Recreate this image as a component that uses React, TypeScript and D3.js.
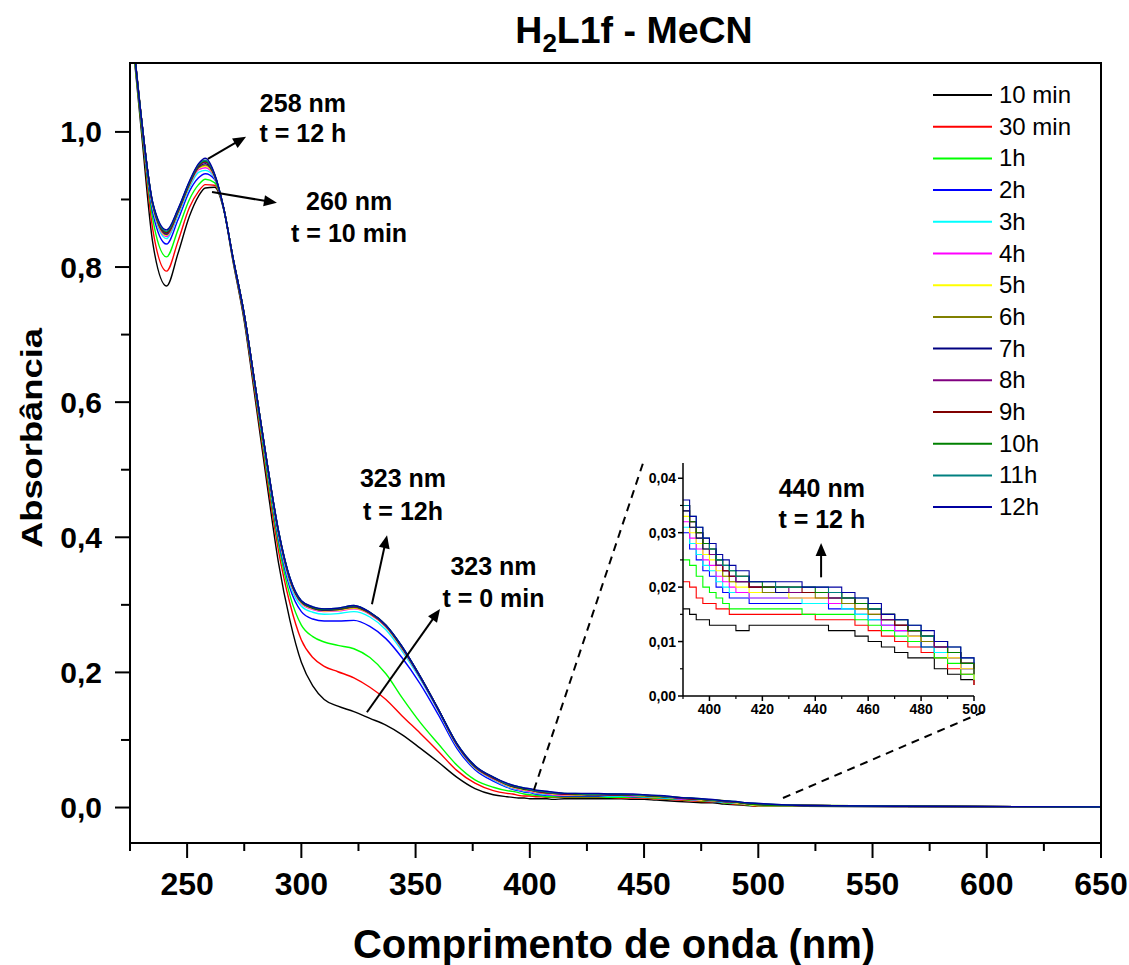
import React from 'react';
import * as d3 from 'd3';

// ---------- DATA ----------
const wavelengths = [
  226, 230, 235, 241, 246, 251, 255, 258, 262, 266, 270, 275, 280, 285, 290, 295, 300, 305, 310, 316, 323, 330, 337, 344, 352, 360, 368, 376, 384,
  390, 392.5, 395, 397.5, 400, 402.5, 405, 407.5, 410, 415, 420, 425, 430, 435, 440, 445, 450, 455, 460, 465, 470, 475, 480, 485, 490, 495, 500,
  520, 560, 650,
];

const seriesLabels = ['10 min', '30 min', '1h', '2h', '3h', '4h', '5h', '6h', '7h', '8h', '9h', '10h', '11h', '12h'];
const seriesColors = ['#000000', '#ff0000', '#00ff00', '#0000ff', '#00ffff', '#ff00ff', '#ffff00', '#808000', '#000080', '#800080', '#800000', '#008000', '#008080', '#0000a0'];

const abs10min = [
  1.14, 1.0, 0.835, 0.772, 0.82, 0.875, 0.905, 0.917, 0.918, 0.885, 0.81, 0.72, 0.6, 0.478, 0.362, 0.277, 0.215, 0.18, 0.16, 0.15, 0.142, 0.132, 0.122, 0.108, 0.088, 0.067, 0.045, 0.028, 0.019,
  0.016, 0.015, 0.014, 0.014, 0.013, 0.013, 0.013, 0.013, 0.012, 0.013, 0.013, 0.013, 0.013, 0.013, 0.013, 0.012, 0.012, 0.011, 0.01, 0.009, 0.008, 0.007, 0.007, 0.005, 0.004, 0.003, 0.002,
  0.002, 0.001, 0.001,
];
const abs30min = [
  1.14, 1.01, 0.855, 0.794, 0.838, 0.888, 0.912, 0.922, 0.921, 0.887, 0.812, 0.724, 0.607, 0.488, 0.38, 0.302, 0.248, 0.222, 0.209, 0.201, 0.192, 0.178, 0.16, 0.136, 0.11, 0.083, 0.055, 0.036, 0.025,
  0.021, 0.02, 0.018, 0.017, 0.017, 0.016, 0.016, 0.015, 0.015, 0.015, 0.015, 0.015, 0.015, 0.015, 0.014, 0.014, 0.014, 0.013, 0.012, 0.011, 0.01, 0.009, 0.008, 0.007, 0.005, 0.004, 0.002,
  0.003, 0.002, 0.001,
];
const abs1h = [
  1.14, 1.01, 0.87, 0.815, 0.855, 0.9, 0.922, 0.93, 0.925, 0.887, 0.813, 0.726, 0.612, 0.495, 0.39, 0.314, 0.27, 0.253, 0.245, 0.24, 0.235, 0.222, 0.198, 0.163, 0.126, 0.094, 0.063, 0.041, 0.03,
  0.025, 0.024, 0.022, 0.02, 0.019, 0.018, 0.017, 0.016, 0.016, 0.016, 0.016, 0.016, 0.016, 0.015, 0.015, 0.015, 0.015, 0.014, 0.013, 0.012, 0.011, 0.01, 0.009, 0.007, 0.006, 0.004, 0.003,
  0.003, 0.002, 0.001,
];
const abs2h = [
  1.15, 1.015, 0.88, 0.834, 0.87, 0.912, 0.932, 0.938, 0.93, 0.887, 0.814, 0.728, 0.616, 0.502, 0.397, 0.325, 0.29, 0.279, 0.276, 0.276, 0.277, 0.268, 0.25, 0.222, 0.183, 0.137, 0.088, 0.056, 0.039,
  0.03, 0.027, 0.025, 0.023, 0.022, 0.02, 0.019, 0.018, 0.018, 0.017, 0.017, 0.017, 0.017, 0.017, 0.017, 0.016, 0.016, 0.015, 0.014, 0.013, 0.012, 0.011, 0.009, 0.008, 0.007, 0.005, 0.004,
  0.003, 0.002, 0.001,
];
const abs3h = [
  1.15, 1.02, 0.886, 0.842, 0.876, 0.917, 0.94, 0.943, 0.932, 0.887, 0.815, 0.729, 0.618, 0.505, 0.402, 0.33, 0.298, 0.289, 0.286, 0.287, 0.29, 0.282, 0.263, 0.232, 0.19, 0.142, 0.091, 0.058, 0.041,
  0.031, 0.028, 0.026, 0.024, 0.023, 0.021, 0.02, 0.019, 0.019, 0.018, 0.018, 0.018, 0.018, 0.017, 0.017, 0.017, 0.016, 0.015, 0.014, 0.013, 0.012, 0.011, 0.01, 0.008, 0.007, 0.005, 0.003,
  0.003, 0.002, 0.001,
];
const abs4h = [
  1.15, 1.02, 0.889, 0.845, 0.879, 0.92, 0.944, 0.947, 0.933, 0.887, 0.815, 0.729, 0.619, 0.507, 0.405, 0.334, 0.302, 0.293, 0.29, 0.291, 0.294, 0.286, 0.267, 0.235, 0.192, 0.143, 0.092, 0.059, 0.042,
  0.032, 0.029, 0.027, 0.025, 0.024, 0.022, 0.021, 0.02, 0.019, 0.018, 0.018, 0.018, 0.018, 0.018, 0.018, 0.017, 0.017, 0.016, 0.015, 0.013, 0.012, 0.011, 0.01, 0.009, 0.007, 0.005, 0.004,
  0.003, 0.002, 0.001,
];
const abs5h = [
  1.15, 1.02, 0.89, 0.847, 0.88, 0.921, 0.946, 0.949, 0.934, 0.887, 0.815, 0.73, 0.62, 0.508, 0.406, 0.336, 0.303, 0.294, 0.291, 0.292, 0.295, 0.287, 0.268, 0.236, 0.193, 0.144, 0.093, 0.059, 0.043,
  0.033, 0.03, 0.028, 0.026, 0.025, 0.023, 0.022, 0.021, 0.02, 0.019, 0.019, 0.019, 0.018, 0.018, 0.018, 0.018, 0.017, 0.016, 0.015, 0.014, 0.013, 0.011, 0.01, 0.009, 0.007, 0.005, 0.003,
  0.003, 0.002, 0.001,
];
const abs6h = [
  1.15, 1.02, 0.891, 0.848, 0.881, 0.922, 0.947, 0.951, 0.935, 0.887, 0.815, 0.73, 0.62, 0.509, 0.407, 0.337, 0.304, 0.295, 0.292, 0.293, 0.296, 0.287, 0.268, 0.237, 0.193, 0.144, 0.093, 0.06, 0.043,
  0.034, 0.031, 0.029, 0.027, 0.026, 0.024, 0.022, 0.021, 0.021, 0.02, 0.019, 0.019, 0.019, 0.019, 0.018, 0.018, 0.017, 0.016, 0.015, 0.014, 0.013, 0.012, 0.01, 0.009, 0.008, 0.006, 0.005,
  0.003, 0.002, 0.001,
];
const abs7h = [
  1.15, 1.02, 0.892, 0.849, 0.882, 0.923, 0.948, 0.953, 0.935, 0.887, 0.815, 0.73, 0.62, 0.509, 0.408, 0.338, 0.304, 0.295, 0.292, 0.293, 0.297, 0.288, 0.269, 0.237, 0.193, 0.145, 0.094, 0.06, 0.044,
  0.034, 0.031, 0.029, 0.027, 0.026, 0.024, 0.023, 0.022, 0.021, 0.02, 0.02, 0.019, 0.019, 0.019, 0.019, 0.018, 0.018, 0.017, 0.016, 0.014, 0.013, 0.012, 0.011, 0.009, 0.008, 0.006, 0.005,
  0.003, 0.002, 0.001,
];
const abs8h = [
  1.15, 1.02, 0.893, 0.85, 0.883, 0.924, 0.949, 0.955, 0.936, 0.887, 0.815, 0.73, 0.62, 0.51, 0.408, 0.338, 0.305, 0.296, 0.293, 0.294, 0.297, 0.288, 0.269, 0.238, 0.194, 0.145, 0.094, 0.06, 0.044,
  0.035, 0.032, 0.03, 0.028, 0.026, 0.024, 0.023, 0.022, 0.021, 0.02, 0.02, 0.02, 0.019, 0.019, 0.019, 0.018, 0.018, 0.017, 0.016, 0.014, 0.013, 0.012, 0.011, 0.009, 0.008, 0.006, 0.004,
  0.003, 0.002, 0.001,
];
const abs9h = [
  1.15, 1.02, 0.893, 0.851, 0.884, 0.925, 0.95, 0.956, 0.936, 0.887, 0.815, 0.73, 0.62, 0.51, 0.409, 0.339, 0.305, 0.296, 0.293, 0.294, 0.298, 0.288, 0.27, 0.238, 0.194, 0.145, 0.094, 0.061, 0.044,
  0.035, 0.032, 0.03, 0.028, 0.027, 0.025, 0.023, 0.022, 0.022, 0.02, 0.02, 0.02, 0.02, 0.019, 0.019, 0.019, 0.018, 0.017, 0.016, 0.015, 0.013, 0.012, 0.011, 0.01, 0.008, 0.006, 0.005,
  0.003, 0.002, 0.001,
];
const abs10h = [
  1.15, 1.02, 0.894, 0.852, 0.884, 0.925, 0.951, 0.957, 0.937, 0.887, 0.815, 0.73, 0.62, 0.51, 0.409, 0.339, 0.305, 0.296, 0.293, 0.294, 0.298, 0.289, 0.27, 0.238, 0.194, 0.145, 0.095, 0.061, 0.045,
  0.035, 0.032, 0.03, 0.028, 0.027, 0.025, 0.024, 0.023, 0.022, 0.021, 0.02, 0.02, 0.02, 0.02, 0.019, 0.019, 0.018, 0.017, 0.016, 0.015, 0.014, 0.012, 0.011, 0.01, 0.008, 0.006, 0.004,
  0.003, 0.002, 0.001,
];
const abs11h = [
  1.15, 1.02, 0.894, 0.853, 0.885, 0.926, 0.952, 0.958, 0.937, 0.887, 0.815, 0.73, 0.62, 0.51, 0.41, 0.34, 0.306, 0.297, 0.294, 0.295, 0.299, 0.289, 0.27, 0.239, 0.194, 0.145, 0.095, 0.062, 0.045,
  0.035, 0.033, 0.031, 0.029, 0.027, 0.025, 0.024, 0.023, 0.022, 0.021, 0.021, 0.02, 0.02, 0.02, 0.02, 0.019, 0.018, 0.018, 0.016, 0.015, 0.014, 0.013, 0.011, 0.01, 0.009, 0.007, 0.006,
  0.003, 0.002, 0.001,
];
const abs12h = [
  1.15, 1.02, 0.895, 0.855, 0.886, 0.927, 0.953, 0.961, 0.938, 0.887, 0.815, 0.73, 0.62, 0.51, 0.41, 0.34, 0.306, 0.297, 0.294, 0.295, 0.299, 0.289, 0.27, 0.239, 0.194, 0.145, 0.095, 0.062, 0.045,
  0.036, 0.033, 0.031, 0.029, 0.028, 0.026, 0.025, 0.024, 0.023, 0.021, 0.021, 0.021, 0.021, 0.02, 0.02, 0.02, 0.019, 0.018, 0.017, 0.015, 0.014, 0.013, 0.012, 0.01, 0.009, 0.007, 0.006,
  0.003, 0.002, 0.001,
];

const seriesValues = [abs10min, abs30min, abs1h, abs2h, abs3h, abs4h, abs5h, abs6h, abs7h, abs8h, abs9h, abs10h, abs11h, abs12h];

const xMajorTicks = [250, 300, 350, 400, 450, 500, 550, 600, 650];
const xMinorTicks = [225, 275, 325, 375, 425, 475, 525, 575, 625];
const yMajorTicks = [0, 0.2, 0.4, 0.6, 0.8, 1.0];
const yMinorTicks = [0.1, 0.3, 0.5, 0.7, 0.9];
const insetXMajorTicks = [400, 420, 440, 460, 480, 500];
const insetXMinorTicks = [390, 410, 430, 450, 470, 490];
const insetYMajorTicks = [0, 0.01, 0.02, 0.03, 0.04];
const insetYMinorTicks = [0.005, 0.015, 0.025, 0.035];

// annotations (in data units of main plot)
const peakAnnotations = [
  { lines: ['258 nm', 't = 12 h'], x: 300.7, y: [1.0289, 0.9844] },
  { lines: ['260 nm', 't = 10 min'], x: 320.9, y: [0.8845, 0.8372] },
  { lines: ['323 nm', 't = 12h'], x: 344.5, y: [0.4745, 0.4256] },
  { lines: ['323 nm', 't = 0 min'], x: 384.1, y: [0.3442, 0.2968] },
  { lines: ['440 nm', 't = 12 h'], x: 527.8, y: [0.4597, 0.4138] },
];
const mainArrows = [
  { from: [259.1, 0.96], to: [275.8, 0.993] },
  { from: [260.9, 0.911], to: [289.3, 0.895] },
  { from: [330.9, 0.301], to: [337.5, 0.403] },
  { from: [328.7, 0.141], to: [360.7, 0.294] },
];
const insetArrow = { from: [442.2, 0.0218], to: [442.2, 0.0281] };
const zoomGuides = [
  { from: [401.8, 0.0259], to: [450.0, 0.5144] },
  { from: [510.8, 0.0141], to: [600.5, 0.1443] },
];

// ---------- LAYOUT ----------
const W = 1129;
const H = 965;
const FONT = '"Liberation Sans", Arial, Helvetica, sans-serif';

const fmt1 = (v: number) => d3.format('.1f')(v).replace('.', ',');
const fmt2 = (v: number) => d3.format('.2f')(v).replace('.', ',');

function Arrow({ x1, y1, x2, y2 }: { x1: number; y1: number; x2: number; y2: number }) {
  const dx = x2 - x1;
  const dy = y2 - y1;
  const len = Math.hypot(dx, dy);
  const ux = dx / len;
  const uy = dy / len;
  const hl = 13;
  const hw = 5.5;
  const bx = x2 - ux * hl;
  const by = y2 - uy * hl;
  const pts = [
    [x2, y2],
    [bx - uy * hw, by + ux * hw],
    [bx + uy * hw, by - ux * hw],
  ];
  return (
    <g>
      <line x1={x1} y1={y1} x2={bx + ux * 2} y2={by + uy * 2} stroke="#000" strokeWidth={2} />
      <polygon points={pts.map((p) => p.join(',')).join(' ')} fill="#000" />
    </g>
  );
}

export default function App() {
  const x = d3.scaleLinear().domain([225, 650]).range([130, 1101]);
  const y = d3.scaleLinear().domain([-0.0525, 1.102]).range([843, 63]);

  const ix = d3.scaleLinear().domain([390, 500]).range([683, 974]);
  const iy = d3.scaleLinear().domain([0, 0.0428]).range([696, 463]);

  const mainLine = d3
    .line<[number, number]>()
    .x((d) => x(d[0]))
    .y((d) => y(d[1]))
    .curve(d3.curveMonotoneX);

  const insetLine = d3
    .line<[number, number]>()
    .x((d) => ix(d[0]))
    .y((d) => iy(d[1]))
    .curve(d3.curveStepAfter);

  const seriesPts = seriesValues.map((vals) => wavelengths.map((w, i) => [w, vals[i]] as [number, number]));

  const [x0, x1] = x.range();
  const [yb, yt] = y.range();

  return (
    <svg
      width={W}
      height={H}
      viewBox={`0 0 ${W} ${H}`}
      style={{ position: 'absolute', left: 0, top: 0, background: '#fff' }}
      fontFamily={FONT}
    >
      <rect x={0} y={0} width={W} height={H} fill="#fff" />
      <defs>
        <clipPath id="mainClip">
          <rect x={x0} y={yt} width={x1 - x0} height={yb - yt} />
        </clipPath>
        <clipPath id="insetClip">
          <rect x={ix(390)} y={iy(0.0428)} width={ix(500) - ix(390) + 1} height={iy(0) - iy(0.0428) + 1} />
        </clipPath>
      </defs>

      {/* Title */}
      <text x={634} y={43} textAnchor="middle" fontSize={37.5} fontWeight="bold" fill="#000">
        H<tspan fontSize={26} dy={9}>2</tspan>
        <tspan dy={-9}>L1f - MeCN</tspan>
      </text>

      {/* Curves */}
      <g clipPath="url(#mainClip)">
        {seriesPts.map((pts, i) => (
          <path key={i} d={mainLine(pts) || ''} fill="none" stroke={seriesColors[i]} strokeWidth={1.4} />
        ))}
      </g>

      {/* Frame */}
      <rect x={x0} y={yt} width={x1 - x0} height={yb - yt} fill="none" stroke="#000" strokeWidth={2} />

      {/* X axis ticks */}
      {xMajorTicks.map((t) => (
        <g key={'xm' + t}>
          <line x1={x(t)} x2={x(t)} y1={yb} y2={yb + 15} stroke="#000" strokeWidth={2} />
          <text x={x(t)} y={895} textAnchor="middle" fontSize={32} fontWeight="bold">
            {t}
          </text>
        </g>
      ))}
      {xMinorTicks.map((t) => (
        <line key={'xn' + t} x1={x(t)} x2={x(t)} y1={yb} y2={yb + 8} stroke="#000" strokeWidth={2} />
      ))}

      {/* Y axis ticks */}
      {yMajorTicks.map((t) => (
        <g key={'ym' + t}>
          <line x1={x0 - 15} x2={x0} y1={y(t)} y2={y(t)} stroke="#000" strokeWidth={2} />
          <text x={102} y={y(t) + 10.5} textAnchor="end" fontSize={30} fontWeight="bold">
            {fmt1(t)}
          </text>
        </g>
      ))}
      {yMinorTicks.map((t) => (
        <line key={'yn' + t} x1={x0 - 9} x2={x0} y1={y(t)} y2={y(t)} stroke="#000" strokeWidth={2} />
      ))}

      {/* Axis titles */}
      <text
        transform="translate(42,438) rotate(-90)"
        textAnchor="middle"
        fontSize={30}
        fontWeight="bold"
        textLength={220}
        lengthAdjust="spacingAndGlyphs"
      >
        Absorbância
      </text>
      <text x={614} y={958} textAnchor="middle" fontSize={40} fontWeight="bold">
        Comprimento de onda (nm)
      </text>

      {/* Legend */}
      {seriesLabels.map((lab, i) => {
        const ly = 95 + i * 31.7;
        return (
          <g key={'lg' + i}>
            <line x1={933} x2={992} y1={ly} y2={ly} stroke={seriesColors[i]} strokeWidth={2} />
            <text x={999} y={ly + 8} fontSize={24}>
              {lab}
            </text>
          </g>
        );
      })}

      {/* Annotations */}
      {peakAnnotations.map((a, i) => (
        <g key={'an' + i}>
          {a.lines.map((l, j) => (
            <text key={j} x={x(a.x)} y={y(a.y[j])} textAnchor="middle" fontSize={25} fontWeight="bold">
              {l}
            </text>
          ))}
        </g>
      ))}
      {mainArrows.map((a, i) => (
        <Arrow key={'ar' + i} x1={x(a.from[0])} y1={y(a.from[1])} x2={x(a.to[0])} y2={y(a.to[1])} />
      ))}
      {zoomGuides.map((g, i) => (
        <line
          key={'zg' + i}
          x1={x(g.from[0])}
          y1={y(g.from[1])}
          x2={x(g.to[0])}
          y2={y(g.to[1])}
          stroke="#000"
          strokeWidth={2}
          strokeDasharray="8,6"
        />
      ))}

      {/* Inset */}
      <g>
        <g clipPath="url(#insetClip)">
          {seriesPts.map((pts, i) => (
            <path
              key={'in' + i}
              d={insetLine(pts.filter((p) => p[0] >= 390 && p[0] <= 500)) || ''}
              fill="none"
              stroke={seriesColors[i]}
              strokeWidth={1.1}
            />
          ))}
        </g>
        <line x1={ix(390)} x2={ix(390)} y1={iy(0)} y2={iy(0.0428)} stroke="#000" strokeWidth={1.5} />
        <line x1={ix(390)} x2={ix(500)} y1={iy(0)} y2={iy(0)} stroke="#000" strokeWidth={1.5} />
        {insetXMajorTicks.map((t) => (
          <g key={'ixm' + t}>
            <line x1={ix(t)} x2={ix(t)} y1={iy(0)} y2={iy(0) + 5} stroke="#000" strokeWidth={1.5} />
            <text x={ix(t)} y={714} textAnchor="middle" fontSize={14} fontWeight="bold">
              {t}
            </text>
          </g>
        ))}
        {insetXMinorTicks.map((t) => (
          <line key={'ixn' + t} x1={ix(t)} x2={ix(t)} y1={iy(0)} y2={iy(0) + 3} stroke="#000" strokeWidth={1.2} />
        ))}
        {insetYMajorTicks.map((t) => (
          <g key={'iym' + t}>
            <line x1={ix(390) - 5} x2={ix(390)} y1={iy(t)} y2={iy(t)} stroke="#000" strokeWidth={1.5} />
            <text x={676} y={iy(t) + 5} textAnchor="end" fontSize={14} fontWeight="bold">
              {fmt2(t)}
            </text>
          </g>
        ))}
        {insetYMinorTicks.map((t) => (
          <line key={'iyn' + t} x1={ix(390) - 3} x2={ix(390)} y1={iy(t)} y2={iy(t)} stroke="#000" strokeWidth={1.2} />
        ))}
        <Arrow x1={ix(insetArrow.from[0])} y1={iy(insetArrow.from[1])} x2={ix(insetArrow.to[0])} y2={iy(insetArrow.to[1])} />
      </g>
    </svg>
  );
}
